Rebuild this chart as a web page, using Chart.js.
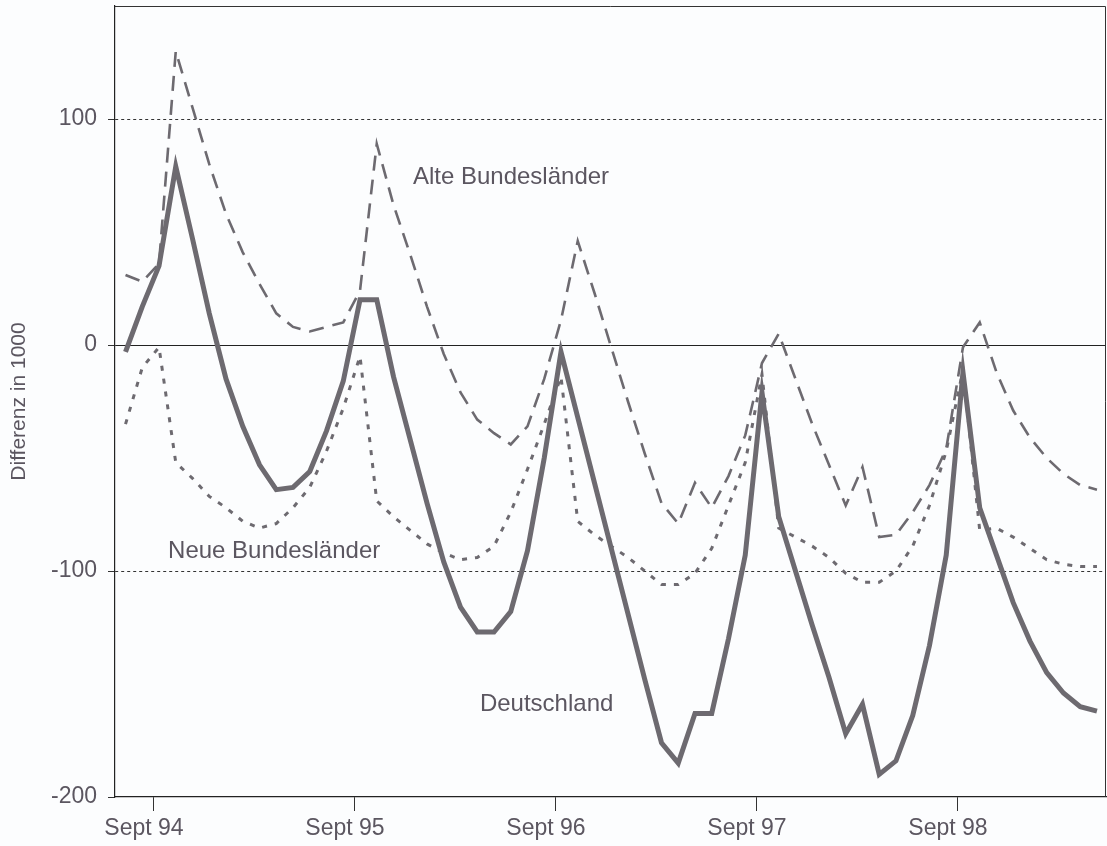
<!DOCTYPE html>
<html>
<head>
<meta charset="utf-8">
<script src="https://cdn.jsdelivr.net/npm/chart.js@4/dist/chart.umd.min.js"></script>
<style>
  html, body { margin: 0; padding: 0; background: #fcfdfe; }
  #wrap { width: 1107px; height: 846px; }
</style>
</head>
<body>
<div id="wrap"><canvas id="c" width="1107" height="846"></canvas></div>
<script>
// Months (index 0 = Juli 1994)
const MONTHS = [
  'Jul 94','Aug 94','Sep 94','Okt 94','Nov 94','Dez 94',
  'Jan 95','Feb 95','Mär 95','Apr 95','Mai 95','Jun 95','Jul 95','Aug 95','Sep 95','Okt 95','Nov 95','Dez 95',
  'Jan 96','Feb 96','Mär 96','Apr 96','Mai 96','Jun 96','Jul 96','Aug 96','Sep 96','Okt 96','Nov 96','Dez 96',
  'Jan 97','Feb 97','Mär 97','Apr 97','Mai 97','Jun 97','Jul 97','Aug 97','Sep 97','Okt 97','Nov 97','Dez 97',
  'Jan 98','Feb 98','Mär 98','Apr 98','Mai 98','Jun 98','Jul 98','Aug 98','Sep 98','Okt 98','Nov 98','Dez 98',
  'Jan 99','Feb 99','Mär 99','Apr 99','Mai 99'
];

// Differenz in 1000
const DEUTSCHLAND = [
  -3, 17, 35, 79, 47, 14,
  -15, -36, -53, -64, -63, -56, -38, -16, 20, 20, -14, -42,
  -70, -96, -116, -127, -127, -118, -91, -50, -3, -32, -61, -90,
  -119, -148, -176, -185, -163, -163, -130, -93, -21, -76, -100, -124,
  -147, -172, -159, -190, -184, -164, -133, -93, -12, -72, -93, -114,
  -131, -145, -154, -160, -162
];
const ALTE_BL = [
  31, 28, 36, 130, 105, 80,
  58, 41, 27, 14, 8, 6, 8, 10, 24, 89, 62, 40,
  17, -4, -21, -33, -39, -44, -36, -15, 11, 46, 23, -1,
  -25, -48, -70, -79, -61, -72, -58, -40, -8, 5, -15, -35,
  -53, -71, -54, -85, -84, -74, -62, -46, -1, 10, -12, -29,
  -41, -50, -57, -62, -64
];
const NEUE_BL = [
  -35, -10, -1, -52, -59, -67,
  -72, -78, -81, -79, -72, -63, -47, -28, -5, -69, -76, -82,
  -88, -92, -95, -94, -89, -74, -55, -35, -14, -78, -84, -89,
  -94, -100, -106, -106, -101, -90, -71, -52, -13, -81, -85, -89,
  -94, -101, -105, -105, -100, -89, -71, -47, -11, -82, -81, -85,
  -90, -95, -97, -98, -98
];

const X_TICK_MONTHS = ['Sep 94','Sep 95','Sep 96','Sep 97','Sep 98'];
const X_TICK_LABELS = ['Sept 94','Sept 95','Sept 96','Sept 97','Sept 98'];
const Y_TICKS = [-200, -100, 0, 100];

const SERIES_NAMES = ['Deutschland', 'Alte Bundesländer', 'Neue Bundesländer'];

// in-plot labels, placed in data coordinates (month index, value)
const ANNOTATIONS = [
  { text: 'Alte Bundesländer', x: 17.16, y: 74 },
  { text: 'Neue Bundesländer', x: 2.54, y: -91.5 },
  { text: 'Deutschland', x: 21.16, y: -159 }
];

const TICK_SHIFT = 0.3;   // tick marks sit slightly before the monthly points
const LINE_COLOR = '#6d6a70';
const TEXT_COLOR = '#5b5660';
const MAIN_FONT = "'Liberation Sans', Arial, sans-serif";

const toXY = arr => arr.map((v, i) => ({ x: i, y: v }));
const xTickValues = X_TICK_MONTHS.map(m => MONTHS.indexOf(m) - TICK_SHIFT);

const annotationPlugin = {
  id: 'annot',
  afterDatasetsDraw(chart) {
    const { ctx, scales: { x, y }, chartArea } = chart;
    ctx.save();
    // frame: top and right edges
    ctx.strokeStyle = '#333';
    ctx.lineWidth = 1;
    ctx.beginPath();
    ctx.moveTo(chartArea.left, chartArea.top + 0.5);
    ctx.lineTo(chartArea.right - 0.5, chartArea.top + 0.5);
    ctx.lineTo(chartArea.right - 0.5, chartArea.bottom);
    ctx.stroke();
    ctx.fillStyle = TEXT_COLOR;
    ctx.font = '24px ' + MAIN_FONT;
    ctx.textAlign = 'left';
    ctx.textBaseline = 'middle';
    ANNOTATIONS.forEach(a => {
      ctx.fillText(a.text, x.getPixelForValue(a.x), y.getPixelForValue(a.y));
    });
    ctx.restore();
  }
};

new Chart(document.getElementById('c'), {
  type: 'line',
  data: {
    datasets: [
      {
        label: SERIES_NAMES[0], data: toXY(DEUTSCHLAND),
        borderColor: LINE_COLOR, borderWidth: 5, pointRadius: 0, tension: 0,
        borderJoinStyle: 'miter', order: 0
      },
      {
        label: SERIES_NAMES[1], data: toXY(ALTE_BL),
        borderColor: LINE_COLOR, borderWidth: 2.6, borderDash: [15, 9], pointRadius: 0, tension: 0,
        order: 1
      },
      {
        label: SERIES_NAMES[2], data: toXY(NEUE_BL),
        borderColor: LINE_COLOR, borderWidth: 3, borderDash: [5, 8], pointRadius: 0, tension: 0,
        order: 2
      }
    ]
  },
  options: {
    responsive: false,
    animation: false,
    devicePixelRatio: 1,
    layout: { padding: { top: 6, right: 1, left: 0, bottom: 0 } },
    plugins: { legend: { display: false }, tooltip: { enabled: false } },
    scales: {
      x: {
        type: 'linear',
        min: -0.628, max: 58.54,
        afterBuildTicks: s => { s.ticks = xTickValues.map(v => ({ value: v })); },
        afterFit: s => { s.height = 49; s.paddingLeft = 0; s.paddingRight = 0; },
        ticks: {
          callback: (v, i) => X_TICK_LABELS[i],
          color: TEXT_COLOR,
          font: { family: MAIN_FONT, size: 23 },
          padding: 4,
          labelOffset: -10,
          maxRotation: 0, autoSkip: false
        },
        grid: { drawOnChartArea: false, tickLength: 14, tickColor: '#333', lineWidth: 1 },
        border: { color: '#222', width: 1.2 }
      },
      y: {
        type: 'linear',
        min: -200, max: 150,
        afterBuildTicks: s => { s.ticks = Y_TICKS.map(v => ({ value: v })); },
        afterFit: s => { s.width = 115; s.paddingTop = 0; s.paddingBottom = 0; },
        ticks: {
          color: TEXT_COLOR,
          font: { family: MAIN_FONT, size: 23 },
          padding: 11
        },
        grid: {
          tickLength: 7,
          tickColor: '#333',
          lineWidth: 1,
          color: c => (c.tick && c.tick.value === -200) ? 'rgba(0,0,0,0)' : (c.tick && c.tick.value === 0 ? '#222' : '#333')
        },
        border: {
          color: '#222', width: 1.2,
          dash: c => (c.tick && c.tick.value !== 0) ? [3, 3] : []
        },
        title: {
          display: true,
          text: 'Differenz in 1000',
          color: TEXT_COLOR,
          font: { family: MAIN_FONT, size: 21 },
          padding: { top: 7, bottom: 0 }
        }
      }
    }
  },
  plugins: [annotationPlugin]
});
</script>
</body>
</html>
